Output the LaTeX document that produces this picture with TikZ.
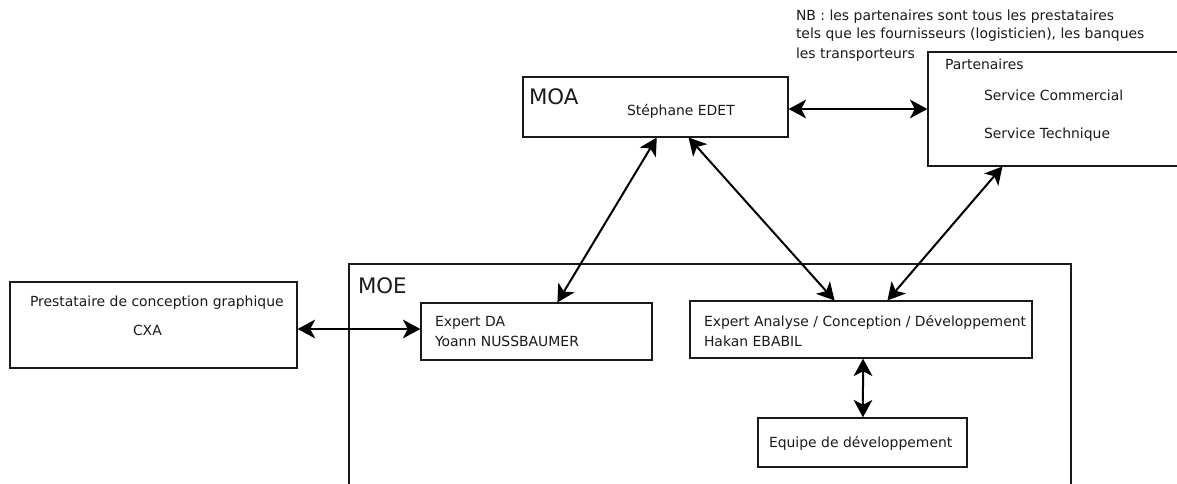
\documentclass[tikz,border=0pt]{standalone}
\usepackage{fontspec}
\setmainfont{DejaVu Sans}
\usetikzlibrary{arrows.meta,calc}
\definecolor{ink}{HTML}{1A1A1A}
\tikzset{
  boxn/.style={draw=ink,line width=1.5pt,inner sep=0pt,outer sep=0pt,fill=none},
  lab/.style={anchor=base west,inner sep=0pt,outer sep=0pt,text=ink,font=\fontsize{10.45pt}{12pt}\selectfont},
  biglab/.style={anchor=base west,inner sep=0pt,outer sep=0pt,text=ink,font=\fontsize{16pt}{18pt}\selectfont},
  link/.style={draw=black,line width=1.5pt,{Stealth[length=13pt,width=14pt,inset=3.5pt]}-{Stealth[length=13pt,width=14pt,inset=3.5pt]},shorten <=0.5pt,shorten >=0.5pt}
}
\begin{document}
\begin{tikzpicture}[x=0.75pt,y=-0.75pt]
\useasboundingbox (0,0) rectangle (1177,484);
% boxes: centre, size in px
\node[boxn,minimum width={265*0.75pt},minimum height={60*0.75pt}] (moa) at (655.5,107) {};
\node[boxn,minimum width={260*0.75pt},minimum height={114*0.75pt}] (part) at (1058,109) {};
\node[boxn,minimum width={722*0.75pt},minimum height={225*0.75pt}] (moe) at (710,377) {};
\node[boxn,minimum width={287*0.75pt},minimum height={86*0.75pt}] (presta) at (153.5,325) {};
\node[boxn,minimum width={231*0.75pt},minimum height={57*0.75pt}] (da) at (536.5,331.5) {};
\node[boxn,minimum width={342*0.75pt},minimum height={57*0.75pt}] (ea) at (861,329.5) {};
\node[boxn,minimum width={209*0.75pt},minimum height={49*0.75pt}] (eq) at (862.5,442.5) {};
% connectors
\draw[link] ($(moa.east)+(0,2)$) -- ($(part.west)+(0,0)$);
\draw[link] ($(presta.east)+(0,4)$) -- ($(da.west)+(0,-2.5)$);
\draw[link] ($(moa.south west)!0.506!(moa.south east)$) -- ($(da.north west)!0.589!(da.north east)$);
\draw[link] ($(moa.south west)!0.623!(moa.south east)$) -- ($(ea.north west)!0.424!(ea.north east)$);
\draw[link] ($(part.south west)!0.288!(part.south east)$) -- ($(ea.north west)!0.576!(ea.north east)$);
\draw[link] ($(ea.south west)!0.506!(ea.south east)$) -- ($(eq.north west)!0.502!(eq.north east)$);
% labels
\node[lab] (nb1) at (796,21) {NB : les partenaires sont tous les prestataires};
\node[lab] (nb2) at (796,39) {tels que les fournisseurs (logisticien), les banques};
\node[lab] (nb3) at (796,59) {les transporteurs};
\node[lab] (l1) at (945,70) {Partenaires};
\node[lab] (l2) at (984,101) {Service Commercial};
\node[lab] (l3) at (984,139) {Service Technique};
\node[biglab] (l4) at (529,105) {MOA};
\node[lab] (l5) at (627,116) {Stéphane EDET};
\node[lab] (l6) at (30,307) {Prestataire de conception graphique};
\node[lab] (l7) at (133,335) {CXA};
\node[biglab] (l8) at (358,294) {MOE};
\node[lab] (l9) at (435,327) {Expert DA};
\node[lab] (l10) at (435,346) {Yoann NUSSBAUMER};
\node[lab] (l11) at (704,327) {Expert Analyse / Conception / Développement};
\node[lab] (l12) at (704,346) {Hakan EBABIL};
\node[lab] (l13) at (769,447) {Equipe de développement};
\end{tikzpicture}
\end{document}
